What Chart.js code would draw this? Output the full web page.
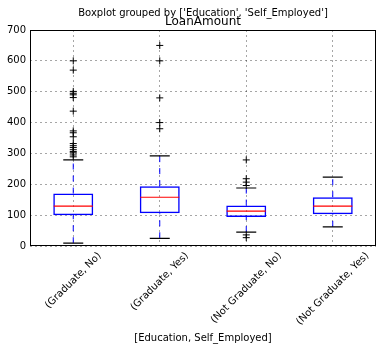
<!DOCTYPE html>
<html>
<head>
<meta charset="utf-8">
<script src="https://cdn.jsdelivr.net/npm/chart.js@4.4.0/dist/chart.umd.min.js"></script>
<style>
	html, body { margin: 0; padding: 0; background: #fff; }
	#wrap { width: 383px; height: 350px; }
</style>
</head>
<body>
<div id="wrap"><canvas id="box-chart"></canvas></div>
<script>
// categorie e statistiche del boxplot
const categories = ['(Graduate, No)', '(Graduate, Yes)', '(Not Graduate, No)', '(Not Graduate, Yes)'];
const whiskerLow = [9, 25, 45, 62];
const q1 = [100, 106, 94, 103];
const median = [129, 158, 113, 129];
const q3 = [170, 194, 131, 158];
const whiskerHigh = [279, 292, 188, 223];
const outliersGradNo = [600, 570, 501, 495, 490, 481, 437, 373, 367, 354, 332, 325, 319, 312, 306, 302, 295, 289];
const outliersGradYes = [650, 600, 480, 400, 380];
const outliersNotGradNo = [279, 218, 207, 196, 36, 27];
const outliersNotGradYes = [];
const yTicks = [0, 100, 200, 300, 400, 500, 600, 700];

const outlierLists = [outliersGradNo, outliersGradYes, outliersNotGradNo, outliersNotGradYes];

// punti per baffi tratteggiati (null = interruzione)
const whiskerPoints = [];
categories.forEach(function (c, i) {
	whiskerPoints.push({ x: c, y: whiskerLow[i] }, { x: c, y: q1[i] }, { x: c, y: null });
	whiskerPoints.push({ x: c, y: q3[i] }, { x: c, y: whiskerHigh[i] }, { x: c, y: null });
});

const capPoints = [];
categories.forEach(function (c, i) {
	capPoints.push({ x: c, y: whiskerLow[i] }, { x: c, y: whiskerHigh[i] });
});

const medianPoints = categories.map(function (c, i) { return { x: c, y: median[i] }; });

const outlierPoints = [];
categories.forEach(function (c, i) {
	outlierLists[i].forEach(function (v) { outlierPoints.push({ x: c, y: v }); });
});

// cornice nera + etichette ruotate a 45° centrate sul tick (come matplotlib)
const framePlugin = {
	id: 'frame',
	afterDraw: function (chart) {
		const a = chart.chartArea;
		const ctx = chart.ctx;
		const xScale = chart.scales.x;
		ctx.save();
		ctx.strokeStyle = '#000';
		ctx.lineWidth = 1;
		ctx.strokeRect(Math.round(a.left) + 0.5, Math.round(a.top) + 0.5, Math.round(a.right - a.left) - 1, Math.round(a.bottom - a.top) - 1);

		ctx.font = '10px "DejaVu Sans"';
		ctx.fillStyle = '#000';
		ctx.textAlign = 'center';
		ctx.textBaseline = 'middle';
		const h = 12;
		categories.forEach(function (c, i) {
			const w = ctx.measureText(c).width;
			const half = (w + h) * Math.SQRT1_2 / 2;
			const cx = xScale.getPixelForTick(i);
			const cy = a.bottom + 4 + half;
			ctx.save();
			ctx.translate(cx, cy);
			ctx.rotate(-Math.PI / 4);
			ctx.fillText(c, 0, 0);
			ctx.restore();
		});
		ctx.restore();
	}
};

Chart.defaults.font.family = 'DejaVu Sans';
Chart.defaults.color = '#000';

const ctx = document.getElementById('box-chart').getContext('2d');
const chart = new Chart(ctx, {
	type: 'bar',
	data: {
		labels: categories,
		datasets: [
			{
				type: 'line',
				label: 'whiskers',
				data: whiskerPoints,
				borderColor: '#0000ff',
				borderWidth: 1,
				borderDash: [6, 6],
				pointRadius: 0,
				spanGaps: false,
				order: 3
			},
			{
				type: 'bar',
				label: 'box',
				data: q1.map(function (v, i) { return [v, q3[i]]; }),
				backgroundColor: 'rgba(255,255,255,0)',
				borderColor: '#0000ff',
				borderWidth: 1.5,
				borderSkipped: false,
				barPercentage: 0.4624,
				categoryPercentage: 1,
				order: 2
			},
			{
				type: 'line',
				label: 'caps',
				data: capPoints,
				showLine: false,
				pointStyle: 'line',
				pointRadius: 10,
				pointBorderColor: '#000',
				pointBorderWidth: 1.2,
				order: 1
			},
			{
				type: 'line',
				label: 'median',
				data: medianPoints,
				showLine: false,
				pointStyle: 'line',
				pointRadius: 19.5,
				pointBorderColor: '#ff0000',
				pointBorderWidth: 1.2,
				order: 0
			},
			{
				type: 'line',
				label: 'outliers',
				data: outlierPoints,
				showLine: false,
				pointStyle: 'cross',
				pointRadius: 3.5,
				pointBorderColor: '#000',
				pointBorderWidth: 1,
				order: 0
			}
		]
	},
	options: {
		responsive: true,
		maintainAspectRatio: false,
		animation: false,
		layout: { autoPadding: false, padding: { left: 0, right: 7, top: 0, bottom: 0 } },
		plugins: {
			legend: { display: false },
			tooltip: { enabled: false },
			title: {
				display: true,
				fullSize: false,
				text: "Boxplot grouped by ['Education', 'Self_Employed']",
				font: { size: 10, weight: 'normal' },
				color: '#000',
				padding: { top: 7, bottom: -4 }
			},
			subtitle: {
				display: true,
				fullSize: false,
				text: 'LoanAmount',
				font: { size: 12, weight: 'normal' },
				color: '#000',
				padding: { top: 0, bottom: 0.6 }
			}
		},
		scales: {
			x: {
				type: 'category',
				offset: true,
				grid: { offset: false, color: 'rgba(0,0,0,0.35)', drawTicks: false },
				border: { display: false, dash: [2, 3] },
				ticks: { display: false },
				title: { display: true, text: '[Education, Self_Employed]', font: { size: 10 }, padding: { top: 4, bottom: 6 } },
				afterFit: function (s) { s.height = 104; }
			},
			y: {
				min: 0,
				max: 700,
				afterBuildTicks: function (s) { s.ticks = yTicks.map(function (v) { return { value: v }; }); },
				grid: { color: 'rgba(0,0,0,0.35)', drawTicks: false },
				border: { display: false, dash: [2, 3] },
				ticks: { padding: 4, font: { size: 10 } },
				afterFit: function (s) { s.width = 30; s.paddingTop = 0; s.paddingBottom = 0; }
			}
		}
	},
	plugins: [framePlugin]
});
</script>
</body>
</html>
